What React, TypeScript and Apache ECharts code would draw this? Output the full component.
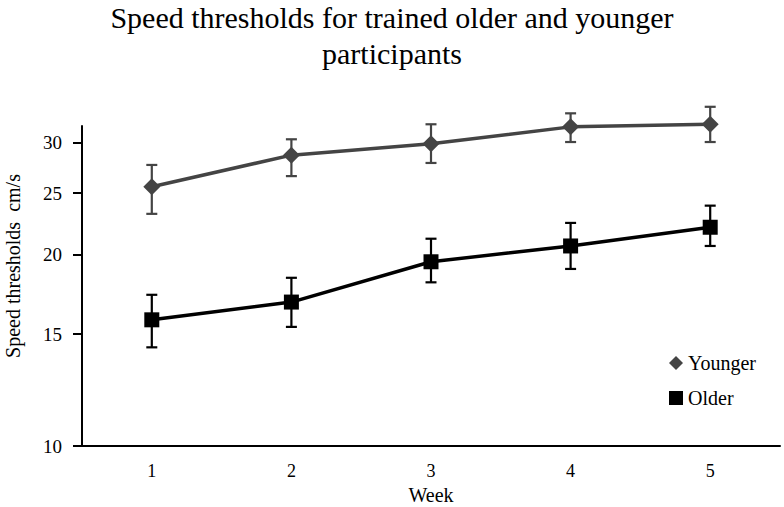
import React, { useEffect, useRef } from "react";
import * as echarts from "echarts";

const weeks = ["1", "2", "3", "4", "5"];
const youngerMean = [25.6, 28.7, 29.9, 31.8, 32.1];
const youngerLow = [23.2, 26.6, 27.9, 30.1, 30.1];
const youngerHigh = [27.7, 30.4, 32.1, 33.4, 34.2];
const olderMean = [15.8, 16.85, 19.5, 20.65, 22.1];
const olderLow = [14.3, 15.4, 18.1, 19.0, 20.65];
const olderHigh = [17.3, 18.4, 21.2, 22.45, 23.9];
const yTicks = [10, 15, 20, 25, 30];
const yMin = 10;
const yMax = 31.9;
const titleLines = ["Speed thresholds for trained older and younger", "participants"];

const FONT = "'Liberation Serif', 'Times New Roman', serif";
const lg = (v: number) => Math.log10(v);

function errorSeries(name: string, low: number[], high: number[], color: string) {
  return {
    type: "custom",
    name: name + "-err",
    silent: true,
    clip: false,
    z: 1,
    data: low.map((l, i) => [i, lg(l), lg(high[i])]),
    renderItem: (params: any, api: any) => {
      const x = api.value(0);
      const p1 = api.coord([x, api.value(1)]);
      const p2 = api.coord([x, api.value(2)]);
      const w = 5.5;
      const style = { stroke: color, lineWidth: 2.2 };
      return {
        type: "group",
        children: [
          { type: "line", shape: { x1: p1[0], y1: p1[1], x2: p2[0], y2: p2[1] }, style },
          { type: "line", shape: { x1: p1[0] - w, y1: p1[1], x2: p1[0] + w, y2: p1[1] }, style },
          { type: "line", shape: { x1: p2[0] - w, y1: p2[1], x2: p2[0] + w, y2: p2[1] }, style },
        ],
      };
    },
  };
}

export default function App() {
  const ref = useRef<HTMLDivElement>(null);
  useEffect(() => {
    if (!ref.current) return;
    const chart = echarts.init(ref.current, undefined, { renderer: "svg" });
    const titleStyle = {
      fontFamily: FONT,
      fontWeight: "normal",
      fontSize: 30,
      lineHeight: 30,
      color: "#000",
    };
    chart.setOption({
      animation: false,
      backgroundColor: "#ffffff",
      title: [
        { text: titleLines[0], left: "center", top: 2, padding: 0, textStyle: titleStyle },
        { text: titleLines[1], left: "center", top: 38, padding: 0, textStyle: titleStyle },
      ],
      legend: {
        orient: "vertical",
        left: 664,
        top: 348,
        itemWidth: 14,
        itemHeight: 14,
        itemGap: 15,
        itemTextGap: 22,
        textStyle: { fontFamily: FONT, fontSize: 20, lineHeight: 20, color: "#000" },
        data: [
          { name: "Younger", icon: "diamond", itemStyle: { color: "#444444" } },
          { name: "Older", icon: "rect", itemStyle: { color: "#000000" } },
        ],
      },
      grid: {
        left: 82,
        right: 4,
        top: 126,
        bottom: 61,
        containLabel: false,
        outerBoundsMode: "none",
      },
      xAxis: {
        type: "category",
        data: weeks,
        boundaryGap: true,
        name: "Week",
        nameLocation: "middle",
        nameGap: 39,
        nameTextStyle: { fontFamily: FONT, fontSize: 20, lineHeight: 20, color: "#000" },
        axisLine: { lineStyle: { color: "#000", width: 2 } },
        axisTick: { alignWithLabel: true, length: 8, lineStyle: { color: "#000", width: 2 } },
        axisLabel: { fontFamily: FONT, fontSize: 18, color: "#000", margin: 16 },
        splitLine: { show: false },
      },
      yAxis: {
        type: "value",
        min: lg(yMin),
        max: lg(yMax),
        axisLine: { show: true, lineStyle: { color: "#000", width: 2 } },
        axisTick: {
          show: true,
          length: 9,
          customValues: yTicks.map(lg),
          lineStyle: { color: "#000", width: 2 },
        },
        axisLabel: {
          fontFamily: FONT,
          fontSize: 19,
          color: "#000",
          margin: 20,
          customValues: yTicks.map(lg),
          formatter: (v: number) => String(Math.round(Math.pow(10, v))),
        },
        splitLine: { show: false },
      },
      graphic: [
        {
          type: "line",
          shape: { x1: 74, y1: 446, x2: 83, y2: 446 },
          style: { stroke: "#000", lineWidth: 2 },
        },
        {
          type: "text",
          x: 13,
          y: 266,
          rotation: Math.PI / 2,
          style: {
            text: "Speed thresholds  cm/s",
            fontFamily: FONT,
            fontSize: 20,
            fill: "#000",
            textAlign: "center",
            textVerticalAlign: "middle",
          },
        },
      ],
      series: [
        errorSeries("Younger", youngerLow, youngerHigh, "#444444"),
        errorSeries("Older", olderLow, olderHigh, "#000000"),
        {
          name: "Younger",
          type: "line",
          clip: false,
          z: 3,
          data: youngerMean.map(lg),
          symbol: "diamond",
          symbolSize: 17,
          lineStyle: { color: "#444444", width: 3.5 },
          itemStyle: { color: "#444444" },
        },
        {
          name: "Older",
          type: "line",
          clip: false,
          z: 3,
          data: olderMean.map(lg),
          symbol: "rect",
          symbolSize: 15,
          lineStyle: { color: "#000000", width: 3.5 },
          itemStyle: { color: "#000000" },
        },
      ],
    });
    return () => chart.dispose();
  }, []);
  return <div ref={ref} style={{ width: 784, height: 507, position: "absolute", left: 0, top: 0 }} />;
}
